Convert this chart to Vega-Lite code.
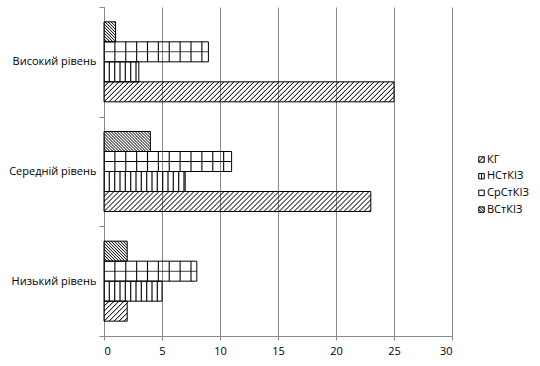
{
  "$schema": "https://vega.github.io/schema/vega-lite/v6.json",
  "width": 348,
  "height": 329,
  "autosize": {"type": "none"},
  "padding": {"left": 104, "top": 7, "right": 88, "bottom": 30},
  "config": {"view": {"stroke": null}, "font": "Open Sans"},
  "params": [
    {"name": "hatch", "value": [
      {"offset":0,"color":"#000"},{"offset":0.0034375,"color":"transparent"},{"offset":0.0121875,"color":"transparent"},
      {"offset":0.015625,"color":"#000"},{"offset":0.0190625,"color":"transparent"},{"offset":0.0278125,"color":"transparent"},
      {"offset":0.03125,"color":"#000"},{"offset":0.0346875,"color":"transparent"},{"offset":0.0434375,"color":"transparent"},
      {"offset":0.046875,"color":"#000"},{"offset":0.0503125,"color":"transparent"},{"offset":0.0590625,"color":"transparent"},
      {"offset":0.0625,"color":"#000"},{"offset":0.0659375,"color":"transparent"},{"offset":0.0746875,"color":"transparent"},
      {"offset":0.078125,"color":"#000"},{"offset":0.0815625,"color":"transparent"},{"offset":0.0903125,"color":"transparent"},
      {"offset":0.09375,"color":"#000"},{"offset":0.0971875,"color":"transparent"},{"offset":0.1059375,"color":"transparent"},
      {"offset":0.109375,"color":"#000"},{"offset":0.1128125,"color":"transparent"},{"offset":0.1215625,"color":"transparent"},
      {"offset":0.125,"color":"#000"},{"offset":0.1284375,"color":"transparent"},{"offset":0.1371875,"color":"transparent"},
      {"offset":0.140625,"color":"#000"},{"offset":0.1440625,"color":"transparent"},{"offset":0.1528125,"color":"transparent"},
      {"offset":0.15625,"color":"#000"},{"offset":0.1596875,"color":"transparent"},{"offset":0.1684375,"color":"transparent"},
      {"offset":0.171875,"color":"#000"},{"offset":0.1753125,"color":"transparent"},{"offset":0.1840625,"color":"transparent"},
      {"offset":0.1875,"color":"#000"},{"offset":0.1909375,"color":"transparent"},{"offset":0.1996875,"color":"transparent"},
      {"offset":0.203125,"color":"#000"},{"offset":0.2065625,"color":"transparent"},{"offset":0.2153125,"color":"transparent"},
      {"offset":0.21875,"color":"#000"},{"offset":0.2221875,"color":"transparent"},{"offset":0.2309375,"color":"transparent"},
      {"offset":0.234375,"color":"#000"},{"offset":0.2378125,"color":"transparent"},{"offset":0.2465625,"color":"transparent"},
      {"offset":0.25,"color":"#000"},{"offset":0.2534375,"color":"transparent"},{"offset":0.2621875,"color":"transparent"},
      {"offset":0.265625,"color":"#000"},{"offset":0.2690625,"color":"transparent"},{"offset":0.2778125,"color":"transparent"},
      {"offset":0.28125,"color":"#000"},{"offset":0.2846875,"color":"transparent"},{"offset":0.2934375,"color":"transparent"},
      {"offset":0.296875,"color":"#000"},{"offset":0.3003125,"color":"transparent"},{"offset":0.3090625,"color":"transparent"},
      {"offset":0.3125,"color":"#000"},{"offset":0.3159375,"color":"transparent"},{"offset":0.3246875,"color":"transparent"},
      {"offset":0.328125,"color":"#000"},{"offset":0.3315625,"color":"transparent"},{"offset":0.3403125,"color":"transparent"},
      {"offset":0.34375,"color":"#000"},{"offset":0.3471875,"color":"transparent"},{"offset":0.3559375,"color":"transparent"},
      {"offset":0.359375,"color":"#000"},{"offset":0.3628125,"color":"transparent"},{"offset":0.3715625,"color":"transparent"},
      {"offset":0.375,"color":"#000"},{"offset":0.3784375,"color":"transparent"},{"offset":0.3871875,"color":"transparent"},
      {"offset":0.390625,"color":"#000"},{"offset":0.3940625,"color":"transparent"},{"offset":0.4028125,"color":"transparent"},
      {"offset":0.40625,"color":"#000"},{"offset":0.4096875,"color":"transparent"},{"offset":0.4184375,"color":"transparent"},
      {"offset":0.421875,"color":"#000"},{"offset":0.4253125,"color":"transparent"},{"offset":0.4340625,"color":"transparent"},
      {"offset":0.4375,"color":"#000"},{"offset":0.4409375,"color":"transparent"},{"offset":0.4496875,"color":"transparent"},
      {"offset":0.453125,"color":"#000"},{"offset":0.4565625,"color":"transparent"},{"offset":0.4653125,"color":"transparent"},
      {"offset":0.46875,"color":"#000"},{"offset":0.4721875,"color":"transparent"},{"offset":0.4809375,"color":"transparent"},
      {"offset":0.484375,"color":"#000"},{"offset":0.4878125,"color":"transparent"},{"offset":0.4965625,"color":"transparent"},
      {"offset":0.5,"color":"#000"},{"offset":0.5034375,"color":"transparent"},{"offset":0.5121875,"color":"transparent"},
      {"offset":0.515625,"color":"#000"},{"offset":0.5190625,"color":"transparent"},{"offset":0.5278125,"color":"transparent"},
      {"offset":0.53125,"color":"#000"},{"offset":0.5346875,"color":"transparent"},{"offset":0.5434375,"color":"transparent"},
      {"offset":0.546875,"color":"#000"},{"offset":0.5503125,"color":"transparent"},{"offset":0.5590625,"color":"transparent"},
      {"offset":0.5625,"color":"#000"},{"offset":0.5659375,"color":"transparent"},{"offset":0.5746875,"color":"transparent"},
      {"offset":0.578125,"color":"#000"},{"offset":0.5815625,"color":"transparent"},{"offset":0.5903125,"color":"transparent"},
      {"offset":0.59375,"color":"#000"},{"offset":0.5971875,"color":"transparent"},{"offset":0.6059375,"color":"transparent"},
      {"offset":0.609375,"color":"#000"},{"offset":0.6128125,"color":"transparent"},{"offset":0.6215625,"color":"transparent"},
      {"offset":0.625,"color":"#000"},{"offset":0.6284375,"color":"transparent"},{"offset":0.6371875,"color":"transparent"},
      {"offset":0.640625,"color":"#000"},{"offset":0.6440625,"color":"transparent"},{"offset":0.6528125,"color":"transparent"},
      {"offset":0.65625,"color":"#000"},{"offset":0.6596875,"color":"transparent"},{"offset":0.6684375,"color":"transparent"},
      {"offset":0.671875,"color":"#000"},{"offset":0.6753125,"color":"transparent"},{"offset":0.6840625,"color":"transparent"},
      {"offset":0.6875,"color":"#000"},{"offset":0.6909375,"color":"transparent"},{"offset":0.6996875,"color":"transparent"},
      {"offset":0.703125,"color":"#000"},{"offset":0.7065625,"color":"transparent"},{"offset":0.7153125,"color":"transparent"},
      {"offset":0.71875,"color":"#000"},{"offset":0.7221875,"color":"transparent"},{"offset":0.7309375,"color":"transparent"},
      {"offset":0.734375,"color":"#000"},{"offset":0.7378125,"color":"transparent"},{"offset":0.7465625,"color":"transparent"},
      {"offset":0.75,"color":"#000"},{"offset":0.7534375,"color":"transparent"},{"offset":0.7621875,"color":"transparent"},
      {"offset":0.765625,"color":"#000"},{"offset":0.7690625,"color":"transparent"},{"offset":0.7778125,"color":"transparent"},
      {"offset":0.78125,"color":"#000"},{"offset":0.7846875,"color":"transparent"},{"offset":0.7934375,"color":"transparent"},
      {"offset":0.796875,"color":"#000"},{"offset":0.8003125,"color":"transparent"},{"offset":0.8090625,"color":"transparent"},
      {"offset":0.8125,"color":"#000"},{"offset":0.8159375,"color":"transparent"},{"offset":0.8246875,"color":"transparent"},
      {"offset":0.828125,"color":"#000"},{"offset":0.8315625,"color":"transparent"},{"offset":0.8403125,"color":"transparent"},
      {"offset":0.84375,"color":"#000"},{"offset":0.8471875,"color":"transparent"},{"offset":0.8559375,"color":"transparent"},
      {"offset":0.859375,"color":"#000"},{"offset":0.8628125,"color":"transparent"},{"offset":0.8715625,"color":"transparent"},
      {"offset":0.875,"color":"#000"},{"offset":0.8784375,"color":"transparent"},{"offset":0.8871875,"color":"transparent"},
      {"offset":0.890625,"color":"#000"},{"offset":0.8940625,"color":"transparent"},{"offset":0.9028125,"color":"transparent"},
      {"offset":0.90625,"color":"#000"},{"offset":0.9096875,"color":"transparent"},{"offset":0.9184375,"color":"transparent"},
      {"offset":0.921875,"color":"#000"},{"offset":0.9253125,"color":"transparent"},{"offset":0.9340625,"color":"transparent"},
      {"offset":0.9375,"color":"#000"},{"offset":0.9409375,"color":"transparent"},{"offset":0.9496875,"color":"transparent"},
      {"offset":0.953125,"color":"#000"},{"offset":0.9565625,"color":"transparent"},{"offset":0.9653125,"color":"transparent"},
      {"offset":0.96875,"color":"#000"},{"offset":0.9721875,"color":"transparent"},{"offset":0.9809375,"color":"transparent"},
      {"offset":0.984375,"color":"#000"},{"offset":0.9878125,"color":"transparent"},{"offset":0.9965625,"color":"transparent"},
      {"offset":1,"color":"#000"}
    ]},
    {"name": "thin", "value": [
      {"offset":0,"color":"#000"},{"offset":0.00625,"color":"transparent"},{"offset":0.05625,"color":"transparent"},
      {"offset":0.0625,"color":"#000"},{"offset":0.06875,"color":"transparent"},{"offset":0.11875,"color":"transparent"},
      {"offset":0.125,"color":"#000"},{"offset":0.13125,"color":"transparent"},{"offset":0.18125,"color":"transparent"},
      {"offset":0.1875,"color":"#000"},{"offset":0.19375,"color":"transparent"},{"offset":0.24375,"color":"transparent"},
      {"offset":0.25,"color":"#000"},{"offset":0.25625,"color":"transparent"},{"offset":0.30625,"color":"transparent"},
      {"offset":0.3125,"color":"#000"},{"offset":0.31875,"color":"transparent"},{"offset":0.36875,"color":"transparent"},
      {"offset":0.375,"color":"#000"},{"offset":0.38125,"color":"transparent"},{"offset":0.43125,"color":"transparent"},
      {"offset":0.4375,"color":"#000"},{"offset":0.44375,"color":"transparent"},{"offset":0.49375,"color":"transparent"},
      {"offset":0.5,"color":"#000"},{"offset":0.50625,"color":"transparent"},{"offset":0.55625,"color":"transparent"},
      {"offset":0.5625,"color":"#000"},{"offset":0.56875,"color":"transparent"},{"offset":0.61875,"color":"transparent"},
      {"offset":0.625,"color":"#000"},{"offset":0.63125,"color":"transparent"},{"offset":0.68125,"color":"transparent"},
      {"offset":0.6875,"color":"#000"},{"offset":0.69375,"color":"transparent"},{"offset":0.74375,"color":"transparent"},
      {"offset":0.75,"color":"#000"},{"offset":0.75625,"color":"transparent"},{"offset":0.80625,"color":"transparent"},
      {"offset":0.8125,"color":"#000"},{"offset":0.81875,"color":"transparent"},{"offset":0.86875,"color":"transparent"},
      {"offset":0.875,"color":"#000"},{"offset":0.88125,"color":"transparent"},{"offset":0.93125,"color":"transparent"},
      {"offset":0.9375,"color":"#000"},{"offset":0.94375,"color":"transparent"},{"offset":0.99375,"color":"transparent"},
      {"offset":1,"color":"#000"}
    ]},
    {"name": "dense", "value": [
      {"offset":0,"color":"#000"},{"offset":0.0145833,"color":"transparent"},{"offset":0.0270833,"color":"transparent"},
      {"offset":0.0416667,"color":"#000"},{"offset":0.05625,"color":"transparent"},{"offset":0.06875,"color":"transparent"},
      {"offset":0.0833333,"color":"#000"},{"offset":0.0979167,"color":"transparent"},{"offset":0.1104167,"color":"transparent"},
      {"offset":0.125,"color":"#000"},{"offset":0.1395833,"color":"transparent"},{"offset":0.1520833,"color":"transparent"},
      {"offset":0.1666667,"color":"#000"},{"offset":0.18125,"color":"transparent"},{"offset":0.19375,"color":"transparent"},
      {"offset":0.2083333,"color":"#000"},{"offset":0.2229167,"color":"transparent"},{"offset":0.2354167,"color":"transparent"},
      {"offset":0.25,"color":"#000"},{"offset":0.2645833,"color":"transparent"},{"offset":0.2770833,"color":"transparent"},
      {"offset":0.2916667,"color":"#000"},{"offset":0.30625,"color":"transparent"},{"offset":0.31875,"color":"transparent"},
      {"offset":0.3333333,"color":"#000"},{"offset":0.3479167,"color":"transparent"},{"offset":0.3604167,"color":"transparent"},
      {"offset":0.375,"color":"#000"},{"offset":0.3895833,"color":"transparent"},{"offset":0.4020833,"color":"transparent"},
      {"offset":0.4166667,"color":"#000"},{"offset":0.43125,"color":"transparent"},{"offset":0.44375,"color":"transparent"},
      {"offset":0.4583333,"color":"#000"},{"offset":0.4729167,"color":"transparent"},{"offset":0.4854167,"color":"transparent"},
      {"offset":0.5,"color":"#000"},{"offset":0.5145833,"color":"transparent"},{"offset":0.5270833,"color":"transparent"},
      {"offset":0.5416667,"color":"#000"},{"offset":0.55625,"color":"transparent"},{"offset":0.56875,"color":"transparent"},
      {"offset":0.5833333,"color":"#000"},{"offset":0.5979167,"color":"transparent"},{"offset":0.6104167,"color":"transparent"},
      {"offset":0.625,"color":"#000"},{"offset":0.6395833,"color":"transparent"},{"offset":0.6520833,"color":"transparent"},
      {"offset":0.6666667,"color":"#000"},{"offset":0.68125,"color":"transparent"},{"offset":0.69375,"color":"transparent"},
      {"offset":0.7083333,"color":"#000"},{"offset":0.7229167,"color":"transparent"},{"offset":0.7354167,"color":"transparent"},
      {"offset":0.75,"color":"#000"},{"offset":0.7645833,"color":"transparent"},{"offset":0.7770833,"color":"transparent"},
      {"offset":0.7916667,"color":"#000"},{"offset":0.80625,"color":"transparent"},{"offset":0.81875,"color":"transparent"},
      {"offset":0.8333333,"color":"#000"},{"offset":0.8479167,"color":"transparent"},{"offset":0.8604167,"color":"transparent"},
      {"offset":0.875,"color":"#000"},{"offset":0.8895833,"color":"transparent"},{"offset":0.9020833,"color":"transparent"},
      {"offset":0.9166667,"color":"#000"},{"offset":0.93125,"color":"transparent"},{"offset":0.94375,"color":"transparent"},
      {"offset":0.9583333,"color":"#000"},{"offset":0.9729167,"color":"transparent"},{"offset":0.9854167,"color":"transparent"},
      {"offset":1,"color":"#000"}
    ]}
  ],
  "data": {"values": [
    {"level": "Високий рівень", "series": "КГ", "count": 25},
    {"level": "Високий рівень", "series": "НСтКІЗ", "count": 3},
    {"level": "Високий рівень", "series": "СрСтКІЗ", "count": 9},
    {"level": "Високий рівень", "series": "ВСтКІЗ", "count": 1},
    {"level": "Середній рівень", "series": "КГ", "count": 23},
    {"level": "Середній рівень", "series": "НСтКІЗ", "count": 7},
    {"level": "Середній рівень", "series": "СрСтКІЗ", "count": 11},
    {"level": "Середній рівень", "series": "ВСтКІЗ", "count": 4},
    {"level": "Низький рівень", "series": "КГ", "count": 2},
    {"level": "Низький рівень", "series": "НСтКІЗ", "count": 5},
    {"level": "Низький рівень", "series": "СрСтКІЗ", "count": 8},
    {"level": "Низький рівень", "series": "ВСтКІЗ", "count": 2}
  ]},
  "encoding": {
    "y": {
      "field": "level", "type": "nominal",
      "sort": ["Високий рівень", "Середній рівень", "Низький рівень"],
      "scale": {"paddingInner": 0, "paddingOuter": 0},
      "axis": {"title": null, "tickBand": "extent", "domainColor": "#888888", "tickColor": "#888888", "tickSize": 5, "labelPadding": 3, "labelFont": "Open Sans", "labelFontSize": 11, "labelColor": "#000000"}
    },
    "yOffset": {
      "field": "series", "type": "nominal",
      "scale": {"domain": ["ВСтКІЗ", "СрСтКІЗ", "НСтКІЗ", "КГ"], "paddingInner": 0, "paddingOuter": 0.742}
    },
    "x": {
      "field": "count", "type": "quantitative", "stack": null,
      "scale": {"domain": [0, 30], "nice": false},
      "axis": {"title": null, "values": [0, 5, 10, 15, 20, 25, 30], "grid": true, "gridColor": "#888888", "domainColor": "#888888", "tickColor": "#888888", "tickSize": 4, "labelPadding": 5, "labelFont": "Open Sans", "labelFontSize": 11, "labelColor": "#000000"}
    }
  },
  "layer": [
    {
      "mark": {"type": "bar", "strokeWidth": 1},
      "encoding": {
        "fill": {"value": {"expr": "datum.series ? (datum.series === 'КГ' ? {gradient: 'linear', x1: 0, y1: 0, x2: (scale('x', datum.count) - scale('x', 0)) * 320 / (pow(scale('x', datum.count) - scale('x', 0), 2) + 400), y2: 6400 / (pow(scale('x', datum.count) - scale('x', 0), 2) + 400), stops: hatch} : datum.series === 'ВСтКІЗ' ? {gradient: 'linear', x1: 0, y1: 1, x2: (scale('x', datum.count) - scale('x', 0)) * 72 / (pow(scale('x', datum.count) - scale('x', 0), 2) + 400), y2: 1 - 1440 / (pow(scale('x', datum.count) - scale('x', 0), 2) + 400), stops: dense} : datum.series === 'НСтКІЗ' ? {gradient: 'linear', x1: 0, y1: 0, x2: 341.3 / (scale('x', datum.count) - scale('x', 0)), y2: 0, stops: hatch} : {gradient: 'linear', x1: 0, y1: 0, x2: 174 / (scale('x', datum.count) - scale('x', 0)), y2: 0, stops: thin}) : (datum.value === 'КГ' ? {gradient: 'linear', x1: 0, y1: 0, x2: 29.2, y2: 29.2, stops: hatch} : datum.value === 'НСтКІЗ' ? {gradient: 'linear', x1: 0, y1: 0, x2: 32, y2: 0, stops: hatch} : datum.value === 'ВСтКІЗ' ? {gradient: 'linear', x1: 0, y1: 1, x2: 6.57, y2: -5.57, stops: dense} : 'transparent')"}},
        "stroke": {
          "field": "series", "type": "nominal",
          "scale": {"domain": ["КГ", "НСтКІЗ", "СрСтКІЗ", "ВСтКІЗ"], "range": ["#000000", "#000000", "#000000", "#000000"]},
          "legend": {
            "title": null, "orient": "none", "legendX": 372, "legendY": 147,
            "symbolType": "square", "symbolSize": 30, "symbolStrokeWidth": 1, "symbolStrokeColor": "#000000",
            "labelFont": "Open Sans", "labelFontSize": 11, "labelColor": "#000000", "labelOffset": 0, "rowPadding": 4.7, "padding": 0
          }
        }
      }
    },
    {
      "transform": [{"filter": "datum.series === 'СрСтКІЗ'"}],
      "mark": {"type": "bar", "strokeWidth": 0, "fill": {"gradient": "linear", "x1": 0, "y1": 0, "x2": 0, "y2": 1, "stops": [{"offset": 0, "color": "transparent"}, {"offset": 0.46, "color": "transparent"}, {"offset": 0.5, "color": "#000"}, {"offset": 0.54, "color": "transparent"}, {"offset": 1, "color": "transparent"}]}}
    }
  ]
}
